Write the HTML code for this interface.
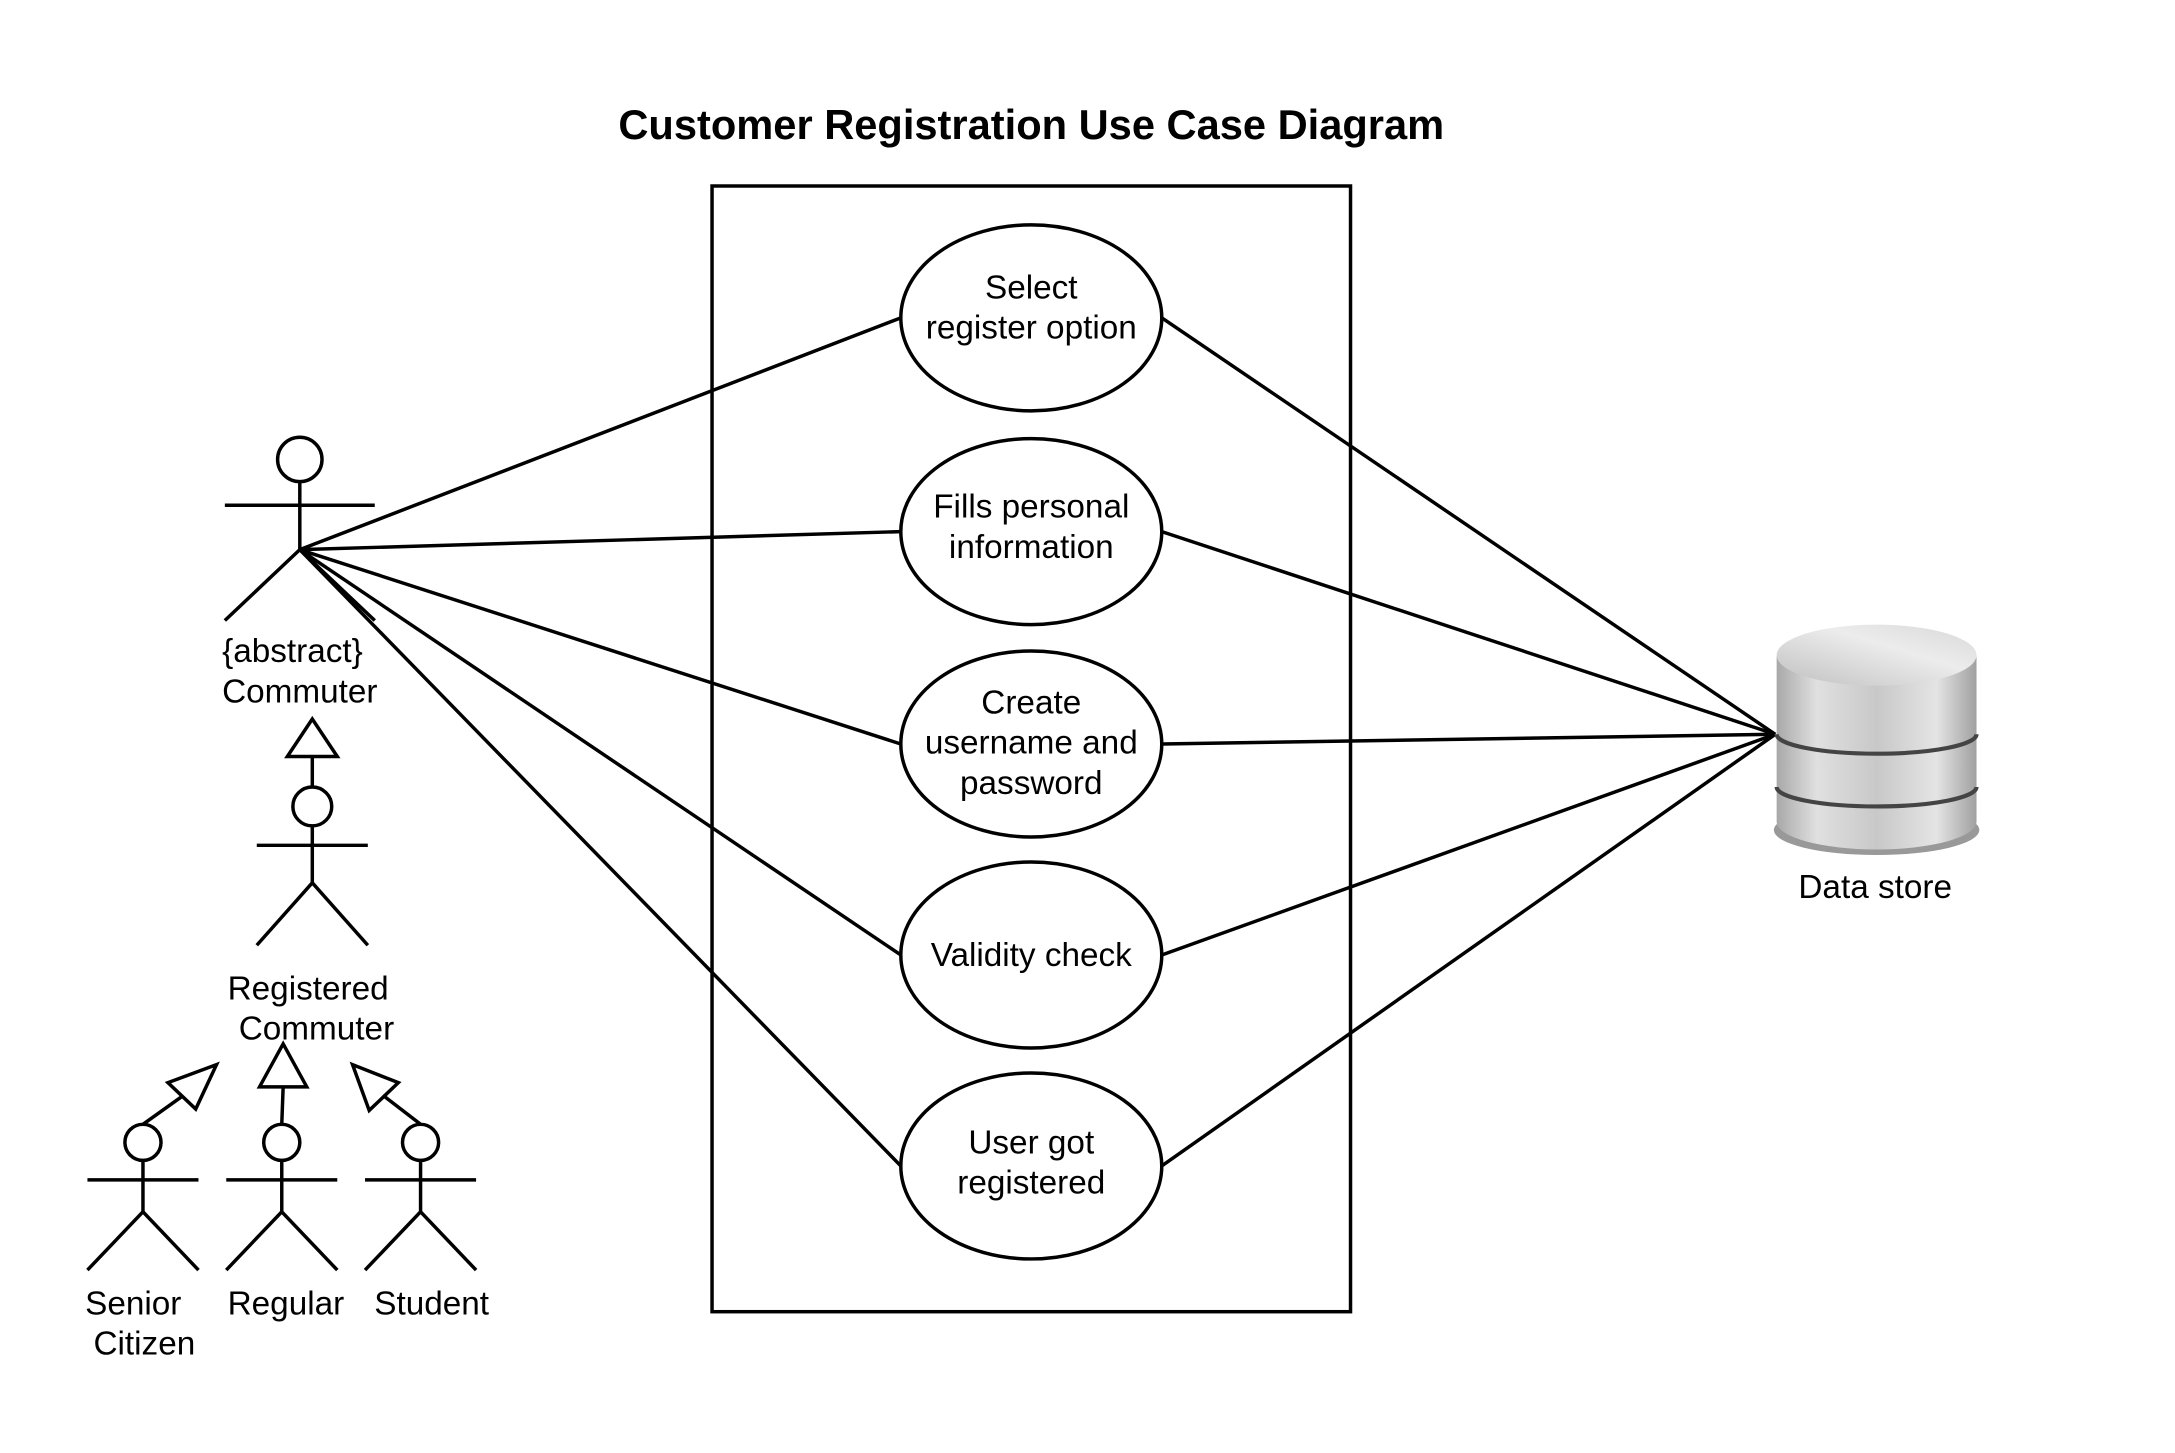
<!DOCTYPE html>
<html><head><meta charset="utf-8"><style>html,body{margin:0;padding:0;background:#fff}svg{display:block}</style></head>
<body>
<svg width="2175" height="1453" viewBox="0 0 1567 1046.8" preserveAspectRatio="none" xmlns="http://www.w3.org/2000/svg" font-family="Liberation Sans, sans-serif">
<defs>
<linearGradient id="g" x1="0" x2="1"><stop offset="0" stop-color="#a8a8a8"/><stop offset="0.2" stop-color="#e0e0e0"/><stop offset="0.5" stop-color="#c8c8c8"/><stop offset="0.8" stop-color="#e4e4e4"/><stop offset="1" stop-color="#a0a0a0"/></linearGradient>
<linearGradient id="t" x1="0" x2="1" y1="1" y2="0"><stop offset="0" stop-color="#c0c0c0"/><stop offset="0.6" stop-color="#ececec"/><stop offset="1" stop-color="#d8d8d8"/></linearGradient>
</defs>
<rect width="1567" height="1047" fill="#fff"/>
<text x="743" y="100" font-size="30" font-weight="bold" text-anchor="middle">Customer Registration Use Case Diagram</text>
<g stroke="#000" stroke-width="2.5" fill="none">
<rect x="513" y="134" width="460" height="811"/>
<line x1="216" y1="396" x2="649" y2="229"/><line x1="216" y1="396" x2="649" y2="383"/><line x1="216" y1="396" x2="649" y2="536"/><line x1="216" y1="396" x2="649" y2="688"/><line x1="216" y1="396" x2="649" y2="840"/>
<line x1="837" y1="229" x2="1279" y2="529"/><line x1="837" y1="383" x2="1279" y2="529"/><line x1="837" y1="536" x2="1279" y2="529"/><line x1="837" y1="688" x2="1279" y2="529"/><line x1="837" y1="840" x2="1279" y2="529"/>
</g>
<g stroke="#000" stroke-width="2.5" fill="#fff">
<ellipse cx="743" cy="229" rx="94" ry="67"/><ellipse cx="743" cy="383" rx="94" ry="67"/><ellipse cx="743" cy="536" rx="94" ry="67"/><ellipse cx="743" cy="688" rx="94" ry="67"/><ellipse cx="743" cy="840" rx="94" ry="67"/>
</g>
<g font-size="24" text-anchor="middle">
<text x="743" y="215">Select</text><text x="743" y="244">register option</text>
<text x="743" y="373">Fills personal</text><text x="743" y="402">information</text>
<text x="743" y="514">Create</text><text x="743" y="543">username and</text><text x="743" y="572">password</text>
<text x="743" y="696">Validity check</text>
<text x="743" y="831">User got</text><text x="743" y="860">registered</text>
</g>
<g stroke="#000" stroke-width="2.5" fill="none">
<circle cx="216" cy="331" r="16"/><line x1="216" y1="347" x2="216" y2="396"/><line x1="162" y1="364" x2="270" y2="364"/><polyline points="162,447 216,396 270,447"/>
<polygon points="225,518 207,545 243,545"/><line x1="225" y1="545" x2="225" y2="567"/>
<circle cx="225" cy="581" r="14"/><line x1="225" y1="595" x2="225" y2="636"/><line x1="185" y1="609" x2="265" y2="609"/><polyline points="185,681 225,636 265,681"/>
<circle cx="103" cy="823" r="13"/><line x1="103" y1="836" x2="103" y2="873"/><line x1="63" y1="850" x2="143" y2="850"/><polyline points="63,915 103,873 143,915"/>
<circle cx="203" cy="823" r="13"/><line x1="203" y1="836" x2="203" y2="873"/><line x1="163" y1="850" x2="243" y2="850"/><polyline points="163,915 203,873 243,915"/>
<circle cx="303" cy="823" r="13"/><line x1="303" y1="836" x2="303" y2="873"/><line x1="263" y1="850" x2="343" y2="850"/><polyline points="263,915 303,873 343,915"/>
<line x1="103" y1="810" x2="131" y2="790"/><polygon points="156,767 121,780 141,799"/>
<line x1="203" y1="810" x2="204" y2="783"/><polygon points="204,752 187,783 221,783"/>
<line x1="303" y1="810" x2="277" y2="790"/><polygon points="254,767 266,800 287,780"/>
</g>
<g font-size="24">
<text x="160" y="477">{abstract}</text><text x="160" y="506">Commuter</text>
<text x="222" y="720" text-anchor="middle">Registered</text><text x="228" y="749" text-anchor="middle">Commuter</text>
<text x="96" y="947" text-anchor="middle">Senior</text><text x="104" y="976" text-anchor="middle">Citizen</text>
<text x="206" y="947" text-anchor="middle">Regular</text><text x="311" y="947" text-anchor="middle">Student</text>
<text x="1351" y="647" text-anchor="middle">Data store</text>
</g>
<g>
<ellipse cx="1352" cy="598" rx="74" ry="18" fill="#555" opacity="0.6"/>
<path d="M1280,473 L1280,592 A72,20 0 0 0 1424,592 L1424,473 Z" fill="url(#g)"/>
<path d="M1280,529 A72,14 0 0 0 1424,529" stroke="#444" stroke-width="3" fill="none"/>
<path d="M1280,567 A72,14 0 0 0 1424,567" stroke="#444" stroke-width="3" fill="none"/>
<ellipse cx="1352" cy="472" rx="72" ry="22" fill="url(#t)"/>
</g>
</svg>
</body></html>
